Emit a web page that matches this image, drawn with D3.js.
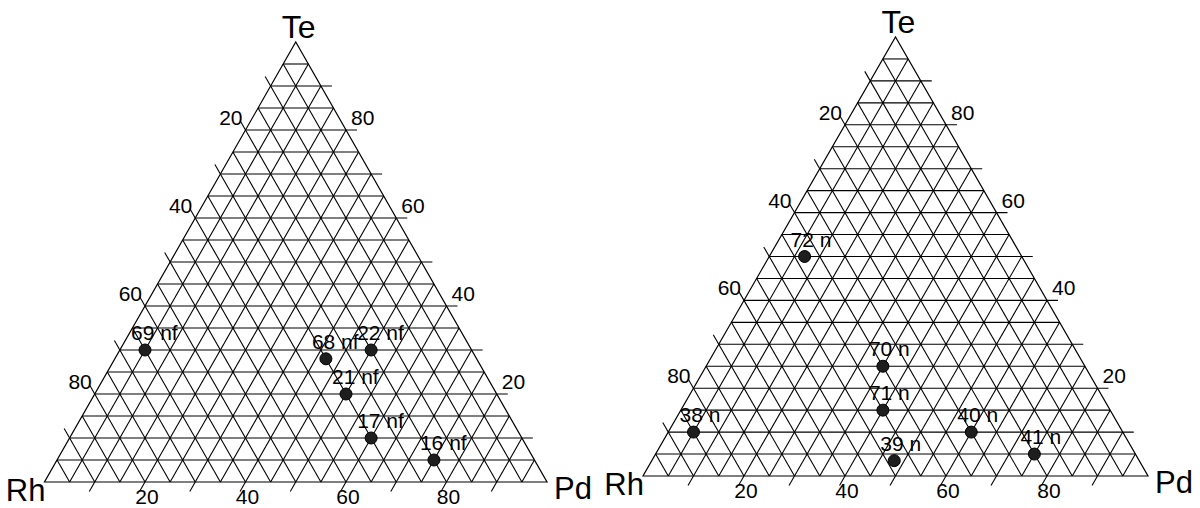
<!DOCTYPE html>
<html>
<head>
<meta charset="utf-8">
<script src="https://cdn.jsdelivr.net/npm/d3@7"></script>
<style>
  body { margin: 0; background: #fff; }
  svg { display: block; }
  text { font-family: "Liberation Sans", Arial, sans-serif; fill: #000; }
</style>
</head>
<body>
<svg width="1200" height="508"></svg>
<script>
// corner names
const corners = ["Rh", "Pd", "Te"];

// grid: 5% steps, ticks every 10%, labels every 20%
const gridValues = d3.range(5, 100, 5);
const tickValues = [10, 20, 30, 40, 50, 60, 70, 80, 90];
const tickLabels = [20, 40, 60, 80];

// left diagram (nf samples)
const leftNames = ["69 nf", "68 nf", "22 nf", "21 nf", "17 nf", "16 nf"];
const leftRh = [65, 30, 20, 30, 30, 20];
const leftPd = [5, 42, 50, 50, 60, 75];
const leftTe = [30, 28, 30, 20, 10, 5];

// right diagram (n samples)
const rightNames = ["72 n", "70 n", "71 n", "38 n", "39 n", "40 n", "41 n"];
const rightRh = [43, 40, 45, 85, 48.5, 30, 20];
const rightPd = [7, 35, 40, 5, 48, 60, 75];
const rightTe = [50, 25, 15, 10, 3.5, 10, 5];

const svg = d3.select("svg");

function drawTernary(box, names, rh, pd, te) {
  const x = d3.scaleLinear().domain([0, 100]).range([box.left, box.right]);
  const y = d3.scaleLinear().domain([0, 100]).range([box.base, box.top]);
  // ternary -> screen (Pd, Te given, Rh is the rest)
  const px = (p, t) => x(p + t / 2);
  const py = (p, t) => y(t);

  const g = svg.append("g");
  const tickLen = 11;

  // extend a segment past its end (x2,y2) by tickLen
  function extend(x1, y1, x2, y2) {
    const dx = x2 - x1, dy = y2 - y1;
    const len = Math.sqrt(dx * dx + dy * dy);
    return [x2 + dx / len * tickLen, y2 + dy / len * tickLen];
  }

  const lines = [];
  gridValues.forEach(v => {
    const tick = tickValues.includes(v);
    // constant Te, runs left edge -> right edge, tick past the right edge
    let a = [px(0, v), py(0, v)], b = [px(100 - v, v), py(100 - v, v)];
    lines.push([a, tick ? extend(a[0], a[1], b[0], b[1]) : b]);
    // constant Pd, runs right edge -> base, tick past the base
    a = [px(v, 100 - v), py(v, 100 - v)]; b = [px(v, 0), py(v, 0)];
    lines.push([a, tick ? extend(a[0], a[1], b[0], b[1]) : b]);
    // constant Rh, runs base -> left edge, tick past the left edge
    a = [px(100 - v, 0), py(100 - v, 0)]; b = [px(0, 100 - v), py(0, 100 - v)];
    lines.push([a, tick ? extend(a[0], a[1], b[0], b[1]) : b]);
  });

  g.append("g")
      .attr("stroke", "#000")
      .attr("stroke-width", 1.1)
      .selectAll("line")
      .data(lines)
      .enter()
      .append("line")
      .attr("x1", d => d[0][0])
      .attr("y1", d => d[0][1])
      .attr("x2", d => d[1][0])
      .attr("y2", d => d[1][1]);

  // outline
  g.append("path")
      .attr("d", d3.line()([[px(0, 0), py(0, 0)], [px(100, 0), py(100, 0)], [px(0, 100), py(0, 100)]]) + "Z")
      .attr("fill", "none")
      .attr("stroke", "#000")
      .attr("stroke-width", 1.2);

  // tick labels
  const lab = g.append("g").attr("font-size", 21);
  tickLabels.forEach(v => {
    // Te on the right edge
    lab.append("text")
        .attr("x", px(100 - v, v) + 5)
        .attr("y", py(100 - v, v) - 5)
        .text(v);
    // Rh on the left edge
    lab.append("text")
        .attr("x", px(0, 100 - v) - 3)
        .attr("y", py(0, 100 - v) - 5)
        .attr("text-anchor", "end")
        .text(v);
    // Pd along the base
    lab.append("text")
        .attr("x", px(v, 0) + 2)
        .attr("y", py(v, 0) + 22)
        .attr("text-anchor", "middle")
        .text(v);
  });

  // corner names
  g.append("text").attr("font-size", 31)
      .attr("x", px(0, 0) + 1).attr("y", py(0, 0) + 19)
      .attr("text-anchor", "end").text(corners[0]);
  g.append("text").attr("font-size", 31)
      .attr("x", px(100, 0) + 7).attr("y", py(100, 0) + 17)
      .text(corners[1]);
  g.append("text").attr("font-size", 32)
      .attr("x", px(0, 100) - 14).attr("y", py(0, 100) - 4)
      .text(corners[2]);

  // samples
  const pts = names.map((n, i) => ({ name: n, rh: rh[i], pd: pd[i], te: te[i] }));

  g.append("g")
      .selectAll("circle")
      .data(pts)
      .enter()
      .append("circle")
      .attr("cx", d => px(d.pd, d.te))
      .attr("cy", d => py(d.pd, d.te))
      .attr("r", 6)
      .attr("fill", "#1e1e1e")
      .attr("stroke", "#000")
      .attr("stroke-width", 1);

  g.append("g")
      .attr("font-size", 21)
      .selectAll("text")
      .data(pts)
      .enter()
      .append("text")
      .attr("x", d => px(d.pd, d.te) - 14)
      .attr("y", d => py(d.pd, d.te) - 10)
      .text(d => d.name);
}

drawTernary({ left: 44.5, right: 547, base: 482, top: 42 }, leftNames, leftRh, leftPd, leftTe);
drawTernary({ left: 643, right: 1148, base: 476, top: 37 }, rightNames, rightRh, rightPd, rightTe);
</script>
</body>
</html>
